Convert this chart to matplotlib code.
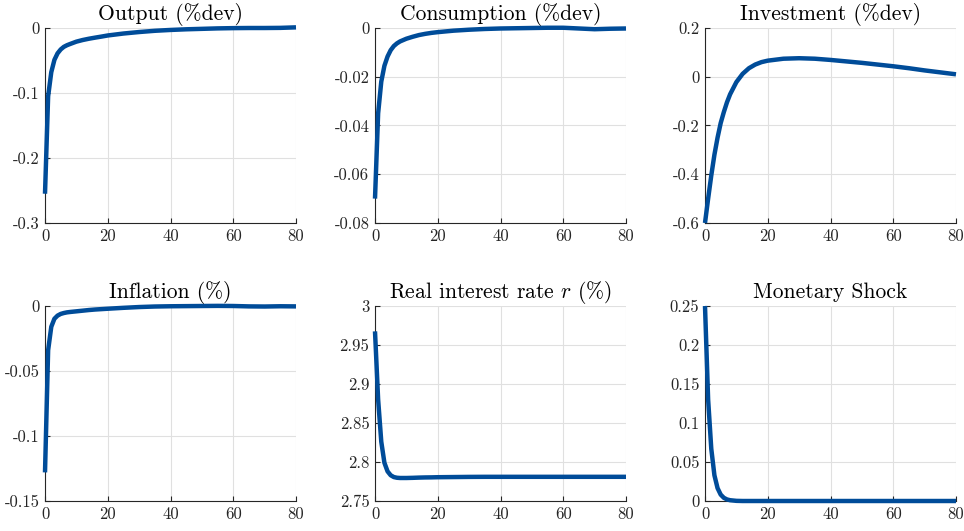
import matplotlib
matplotlib.use("Agg")
import matplotlib.pyplot as plt
from matplotlib.ticker import FuncFormatter, FixedLocator

plt.rcParams['font.family'] = ['cmr10', 'DejaVu Serif']
plt.rcParams['mathtext.fontset'] = 'cm'
plt.rcParams['axes.unicode_minus'] = False

# periods at which values were read
periods = [0, 1, 2, 3, 4, 5, 6, 7, 8, 10, 12, 14, 16, 18, 20, 25, 30, 35, 40,
           45, 50, 55, 60, 65, 70, 75, 80]

output = [-0.255, -0.105, -0.068, -0.049, -0.039, -0.033, -0.029, -0.0265, -0.0246,
          -0.021, -0.0185, -0.0165, -0.0148, -0.0132, -0.0115, -0.0085, -0.0062,
          -0.0043, -0.003, -0.002, -0.0013, -0.0006, -0.0002, 0.0, 0.0, 0.0002, 0.001]

consumption = [-0.070, -0.035, -0.022, -0.0155, -0.0117, -0.0091, -0.0074, -0.0063,
               -0.0055, -0.0044, -0.0036, -0.0029, -0.0024, -0.002, -0.0017, -0.0011,
               -0.0007, -0.0004, -0.0002, -0.0001, 0.0, 0.0001, 0.0001, -0.0002,
               -0.0005, -0.0003, -0.0002]

investment = [-0.6, -0.5, -0.405, -0.32, -0.25, -0.19, -0.145, -0.105, -0.072,
              -0.022, 0.012, 0.035, 0.05, 0.06, 0.066, 0.074, 0.076, 0.074, 0.069,
              0.063, 0.057, 0.05, 0.043, 0.035, 0.026, 0.018, 0.01]

inflation = [-0.128, -0.034, -0.016, -0.0098, -0.0074, -0.0061, -0.0054, -0.0049,
             -0.0046, -0.0041, -0.0036, -0.0031, -0.0027, -0.0024, -0.0021, -0.0014,
             -0.0008, -0.0004, -0.0002, -0.0001, 0.0, 0.0001, 0.0, -0.0003, -0.0004,
             -0.0002, -0.0003]

real_rate = [2.9675, 2.88, 2.826, 2.799, 2.788, 2.783, 2.7807, 2.7798, 2.7795,
             2.7795, 2.7797, 2.78, 2.7802, 2.7803, 2.7805, 2.7807, 2.7809, 2.781,
             2.781, 2.781, 2.781, 2.781, 2.781, 2.781, 2.781, 2.781, 2.781]

shock = [0.25, 0.13, 0.067, 0.033, 0.0165, 0.0082, 0.0041, 0.002, 0.001, 0.0002,
         0.0, 0.0, 0.0, 0.0, 0.0, 0.0, 0.0, 0.0, 0.0, 0.0, 0.0, 0.0, 0.0, 0.0, 0.0,
         0.0, 0.0]

titles = ["Output (%dev)", "Consumption (%dev)", "Investment (%dev)",
          "Inflation (%)", r"Real interest rate $r$ (%)", "Monetary Shock"]
series = [output, consumption, investment, inflation, real_rate, shock]
ylims = [(-0.3, 0.0), (-0.08, 0.0), (-0.6, 0.2),
         (-0.15, 0.0), (2.75, 3.0), (0.0, 0.25)]
yticks = [[-0.3, -0.2, -0.1, 0],
          [-0.08, -0.06, -0.04, -0.02, 0],
          [-0.6, -0.4, -0.2, 0, 0.2],
          [-0.15, -0.1, -0.05, 0],
          [2.75, 2.8, 2.85, 2.9, 2.95, 3],
          [0, 0.05, 0.1, 0.15, 0.2, 0.25]]
xticks = [0, 20, 40, 60, 80]

line_color = '#004C99'
axis_color = '#262626'

fig = plt.figure(figsize=(9.64, 5.31), dpi=100)

lefts = [45 / 964, 375 / 964, 705 / 964]
width = 251 / 964
bottoms = [1 - 223 / 531, 1 - 501 / 531]
height = 195 / 531

fmt = FuncFormatter(lambda v, p: f"{round(v, 6):g}")

for i in range(6):
    r, c = divmod(i, 3)
    ax = fig.add_axes([lefts[c], bottoms[r], width, height])
    ax.plot(periods, series[i], color=line_color, lw=3.2,
            solid_capstyle='butt', solid_joinstyle='round', clip_on=False, zorder=3)
    ax.set_xlim(0, 80)
    ax.set_ylim(*ylims[i])
    ax.xaxis.set_major_locator(FixedLocator(xticks))
    ax.yaxis.set_major_locator(FixedLocator(yticks[i]))
    ax.xaxis.set_major_formatter(fmt)
    ax.yaxis.set_major_formatter(fmt)
    ax.grid(True, color='#e0e0e0', lw=0.8)
    ax.set_axisbelow(True)
    for s in ['top', 'right']:
        ax.spines[s].set_visible(False)
    for s in ['left', 'bottom']:
        ax.spines[s].set_color(axis_color)
        ax.spines[s].set_linewidth(0.8)
    ax.tick_params(direction='in', length=3.5, width=0.8, colors=axis_color,
                   labelsize=12, labelcolor=axis_color, pad=4)
    ax.set_title(titles[i], fontsize=15.5, pad=5.5, color='black')

fig.savefig("out.png", dpi=100)
